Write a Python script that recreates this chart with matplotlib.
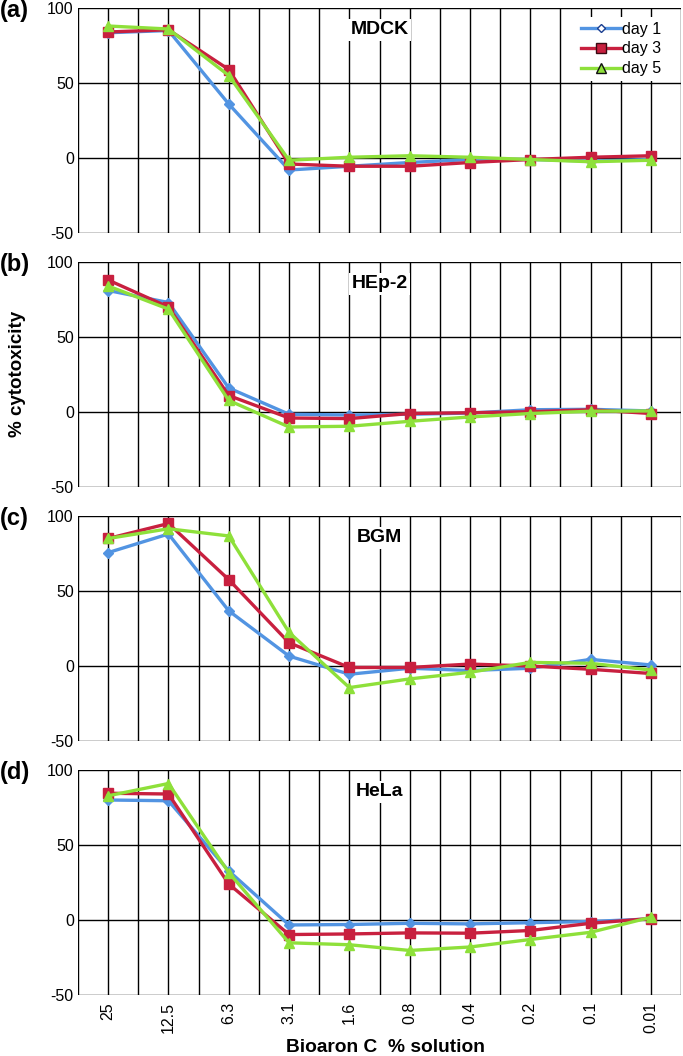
import matplotlib
matplotlib.use('Agg')
import matplotlib.pyplot as plt
from matplotlib.lines import Line2D

plt.rcParams['font.family'] = ['Liberation Sans Narrow', 'Liberation Sans', 'DejaVu Sans']

concentrations = ['25', '12.5', '6.3', '3.1', '1.6', '0.8', '0.4', '0.2', '0.1', '0.01']
panel_letters = ['(a)', '(b)', '(c)', '(d)']
cell_lines = ['MDCK', 'HEp-2', 'BGM', 'HeLa']
series_names = ['day 1', 'day 3', 'day 5']

# % cytotoxicity
mdck_day1 = [83.5, 85, 36, -8, -5.5, -3, -1, -1, -2, -1]
mdck_day3 = [84, 85.5, 59, -4, -5.5, -5.5, -3, -1, 0.5, 1.5]
mdck_day5 = [88, 86, 55, -1.5, 0.5, 1.5, 0.5, -1, -2.5, -1.5]

hep2_day1 = [81, 73, 16, -1.5, -2, -1.5, -0.7, 1.5, 1.8, 0.7]
hep2_day3 = [88, 70, 11, -4, -4.4, -1, -0.5, 0.2, 1.5, -1]
hep2_day5 = [84, 68.6, 7.7, -10, -9.5, -6.2, -3.3, -1, 0.5, 0.7]

bgm_day1 = [75.6, 88, 36.8, 6.6, -5.5, -1.5, -3, -1.5, 4.4, 0.7]
bgm_day3 = [85, 95, 57.6, 15.5, -1, -1, 1.3, 0, -2.2, -5]
bgm_day5 = [85, 91.5, 86.7, 22.4, -14.4, -8.6, -4.2, 2.4, 1.8, -2.7]

hela_day1 = [80, 79.5, 32.7, -3.3, -3, -2.2, -2.6, -1.8, -1, 0.7]
hela_day3 = [84.5, 84, 24, -9.7, -9.3, -8.6, -8.8, -7, -2.2, 1]
hela_day5 = [82.8, 91, 31.6, -15.2, -16.5, -20.3, -18, -13, -8.2, 1.8]

panels = [
    [mdck_day1, mdck_day3, mdck_day5],
    [hep2_day1, hep2_day3, hep2_day5],
    [bgm_day1, bgm_day3, bgm_day5],
    [hela_day1, hela_day3, hela_day5],
]

colors = ['#5294e2', '#c8203f', '#8ee03a']
markers = ['D', 's', '^']
msizes = [5.5, 7.5, 7.5]
legend_faces = ['white', '#c8203f', '#8ee03a']
legend_edges = ['#1a3d8f', '#3a0a12', '#111111']
bold_font = ['Liberation Sans', 'DejaVu Sans']

W, H = 683, 1056
fig = plt.figure(figsize=(W / 100, H / 100), dpi=100)

x = list(range(1, len(concentrations) + 1))
left, right = 78, 681
tops = [8, 262, 516, 770]
ax_h = 225

for i, data in enumerate(panels):
    top = tops[i]
    ax = fig.add_axes([left / W, 1 - (top + ax_h) / H, (right - left) / W, ax_h / H])
    ax.set_xlim(0.5, 10.5)
    ax.set_ylim(-50, 100)

    # grid at every category and half-category
    for gx in [0.5 + 0.5 * k for k in range(21)]:
        ax.axvline(gx, color='black', lw=1.0, zorder=0)
    for gy in [-50, 0, 50, 100]:
        ax.axhline(gy, color='black', lw=1.0, zorder=0)

    for vals, c, m, ms in zip(data, colors, markers, msizes):
        ax.plot(x, vals, color=c, lw=2.4, marker=m, markersize=ms,
                markerfacecolor=c, markeredgecolor=c, zorder=3)

    ax.set_yticks([-50, 0, 50, 100])
    ax.set_yticklabels(['-50', '0', '50', '100'], fontsize=11.5)
    ax.tick_params(axis='y', length=0, pad=3)
    ax.set_xticks(x)
    if i == 3:
        ax.set_xticklabels(concentrations, rotation=90, fontsize=11.5)
        ax.tick_params(axis='x', length=0, pad=5)
    else:
        ax.set_xticklabels([])
        ax.tick_params(axis='x', length=0)
    for s in ax.spines.values():
        s.set_visible(False)

    ax.text(5.5, 100 - 22 / 1.5, cell_lines[i], ha='center', va='center',
            fontsize=14, fontweight='bold', family=bold_font,
            bbox=dict(facecolor='white', edgecolor='none', pad=2), zorder=2)
    fig.text(0 / W, 1 - (top + 3) / H, panel_letters[i], ha='left', va='center',
             fontsize=17, fontweight='bold', family=bold_font)

    if i == 0:
        handles = [Line2D([0], [0], color=c, lw=2.4, marker=m, markersize=ms - 1,
                          markerfacecolor=fc, markeredgecolor=ec)
                   for c, m, ms, fc, ec in zip(colors, markers, msizes, legend_faces, legend_edges)]
        leg = ax.legend(handles, series_names, loc='upper right',
                        bbox_to_anchor=((683 - 12 - left) / (right - left), 1 - 4 / ax_h),
                        frameon=True, fontsize=11.5, handlelength=2.5, handletextpad=0.1,
                        labelspacing=0.3, borderpad=0.3, borderaxespad=0.3)
        leg.get_frame().set_facecolor('white')
        leg.get_frame().set_edgecolor('none')
        leg.get_frame().set_alpha(1)
        leg.get_frame().set_boxstyle('square', pad=0)
        leg.set_zorder(5)

fig.text(18 / W, 1 - 374 / H, '% cytotoxicity', rotation=90, ha='center', va='center',
         fontsize=13.5, fontweight='bold', family=bold_font)
fig.text(385 / W, 1 - 1047 / H, 'Bioaron C  % solution', ha='center', va='center',
         fontsize=13.8, fontweight='bold', family=bold_font)

fig.savefig('out.png', dpi=100)
